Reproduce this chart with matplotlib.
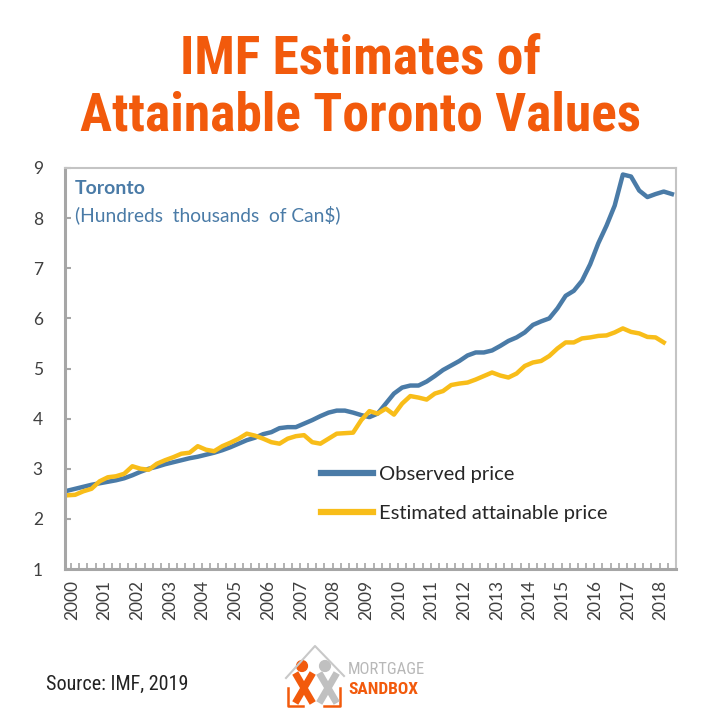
import numpy as np
import matplotlib.pyplot as plt
from matplotlib.lines import Line2D
from matplotlib.patches import Circle
from matplotlib import font_manager

# quarterly data, 2000Q1 .. 2018Q3 (hundreds of thousands of Can$)
years = np.arange(2000, 2019)
quarters = 2000 + np.arange(75) / 4

observed = [2.56, 2.60, 2.64, 2.68, 2.71, 2.74, 2.77, 2.81, 2.87, 2.94,
            3.00, 3.04, 3.09, 3.13, 3.17, 3.21, 3.24, 3.28, 3.32, 3.37,
            3.43, 3.50, 3.57, 3.62, 3.69, 3.73, 3.81, 3.83, 3.83, 3.90,
            3.97, 4.05, 4.12, 4.16, 4.16, 4.12, 4.07, 4.03, 4.10, 4.30,
            4.50, 4.62, 4.66, 4.66, 4.74, 4.85, 4.97, 5.06, 5.15, 5.26,
            5.32, 5.32, 5.36, 5.45, 5.55, 5.62, 5.72, 5.87, 5.94, 6.00,
            6.20, 6.45, 6.55, 6.75, 7.08, 7.50, 7.85, 8.25, 8.87, 8.83,
            8.55, 8.42, 8.48, 8.53, 8.48]

attainable = [2.47, 2.48, 2.55, 2.60, 2.75, 2.83, 2.85, 2.90, 3.05, 3.00,
              2.98, 3.10, 3.17, 3.23, 3.30, 3.32, 3.45, 3.38, 3.35, 3.45,
              3.52, 3.60, 3.70, 3.66, 3.60, 3.53, 3.50, 3.60, 3.65, 3.67,
              3.53, 3.50, 3.60, 3.70, 3.71, 3.72, 3.97, 4.15, 4.10, 4.20,
              4.08, 4.30, 4.45, 4.42, 4.38, 4.50, 4.55, 4.67, 4.70, 4.72,
              4.78, 4.85, 4.92, 4.86, 4.82, 4.90, 5.05, 5.12, 5.15, 5.25,
              5.40, 5.52, 5.52, 5.60, 5.62, 5.65, 5.66, 5.72, 5.80, 5.73,
              5.70, 5.63, 5.62, 5.52, np.nan]

BLUE = '#4a7ba7'
YELLOW = '#f8bd19'
ORANGE = '#f25a0c'
GREY = '#a6a6a6'

plt.rcParams['font.family'] = ['Lato', 'DejaVu Sans']

# narrow family for the title / footer if one is installed
names = {f.name for f in font_manager.fontManager.ttflist}
narrow = [n for n in ['Roboto Condensed', 'Liberation Sans Narrow',
                      'DejaVu Sans Condensed'] if n in names]
COND = narrow + ['DejaVu Sans']

fig = plt.figure(figsize=(7.2, 7.2), dpi=100)
W = H = 720.0


def px(x, y):
    return x / W, 1 - y / H


# title
for y, line in [(59, 'IMF Estimates of'), (116, 'Attainable Toronto Values')]:
    fig.text(*px(360, y), line, ha='center', va='center', fontsize=38.5,
             fontweight='bold', fontstretch='condensed', color=ORANGE,
             family=COND)

ax = fig.add_axes([65 / W, 1 - 569 / H, (676 - 65) / W, (569 - 168) / H])
ax.plot(quarters, observed, color=BLUE, lw=3.2, solid_joinstyle='round',
        label='Observed price')
ax.plot(quarters, attainable, color=YELLOW, lw=3.2, solid_joinstyle='round',
        label='Estimated attainable price')

ax.set_xlim(1999.94, 2018.62)
ax.set_ylim(1, 9)
ax.set_yticks(range(1, 10))
ax.set_xticks(years + 0.15)
ax.set_xticklabels([str(y) for y in years], rotation=90)
ax.set_xticks(quarters + 0.125, minor=True)

for side in ['left', 'bottom']:
    ax.spines[side].set_color(GREY)
    ax.spines[side].set_linewidth(2.2)
for side in ['top', 'right']:
    ax.spines[side].set_color('#c4c4c4')
    ax.spines[side].set_linewidth(1.5)

ax.tick_params(axis='y', direction='in', length=4, width=1.5, color=GREY,
               labelsize=12.5, labelcolor='#404040', pad=16)
ax.tick_params(axis='x', which='major', length=0, labelsize=12.5,
               labelcolor='#404040', pad=8)
ax.tick_params(axis='x', which='minor', direction='in', length=4, width=1.2,
               color=GREY)

ax.text(0.016, 0.95, 'Toronto', transform=ax.transAxes, fontsize=14,
        fontweight='bold', color=BLUE, va='center')
ax.text(0.016, 0.884, '(Hundreds  thousands  of Can$)', transform=ax.transAxes,
        fontsize=13.8, color=BLUE, va='center')

leg = ax.legend(loc='upper left', bbox_to_anchor=(0.405, 0.278), frameon=False,
                fontsize=14.5, handlelength=2.6, handletextpad=0.3,
                labelspacing=1.1, borderaxespad=0)
for t in leg.get_texts():
    t.set_color('#262626')
for h in leg.get_lines():
    h.set_linewidth(4.5)

# footer
fig.text(*px(46, 684), 'Source: IMF, 2019', ha='left', va='center',
         fontsize=14.5, fontstretch='condensed', color='#222222', family=COND)

# simple logo
def seg(pts, color, lw):
    xs = [p[0] / W for p in pts]
    ys = [1 - p[1] / H for p in pts]
    fig.add_artist(Line2D(xs, ys, color=color, lw=lw, transform=fig.transFigure))

seg([(286, 678), (315, 646), (344, 676)], '#c8c8c8', 1.5)
seg([(288, 688), (288, 706), (303, 706)], ORANGE, 1.8)
seg([(324, 706), (340, 706), (340, 688)], ORANGE, 1.8)
seg([(321, 676), (335, 700)], '#c0c0c0', 5)
seg([(335, 676), (321, 700)], '#c0c0c0', 5)
seg([(297, 676), (311, 700)], ORANGE, 5)
seg([(311, 676), (297, 700)], ORANGE, 5)
fig.add_artist(Circle(px(302, 666), 0.0075, color=ORANGE, transform=fig.transFigure))
fig.add_artist(Circle(px(325, 666), 0.0075, color='#c0c0c0', transform=fig.transFigure))
fig.text(*px(348, 669), 'MORTGAGE', ha='left', va='center', fontsize=12,
         fontstretch='condensed', color='#b8b8b8', family=COND)
fig.text(*px(348, 690), 'SANDBOX', ha='left', va='center', fontsize=12.5,
         fontweight='bold', fontstretch='condensed', color=ORANGE, family=COND)

fig.savefig('out.png', dpi=100)
